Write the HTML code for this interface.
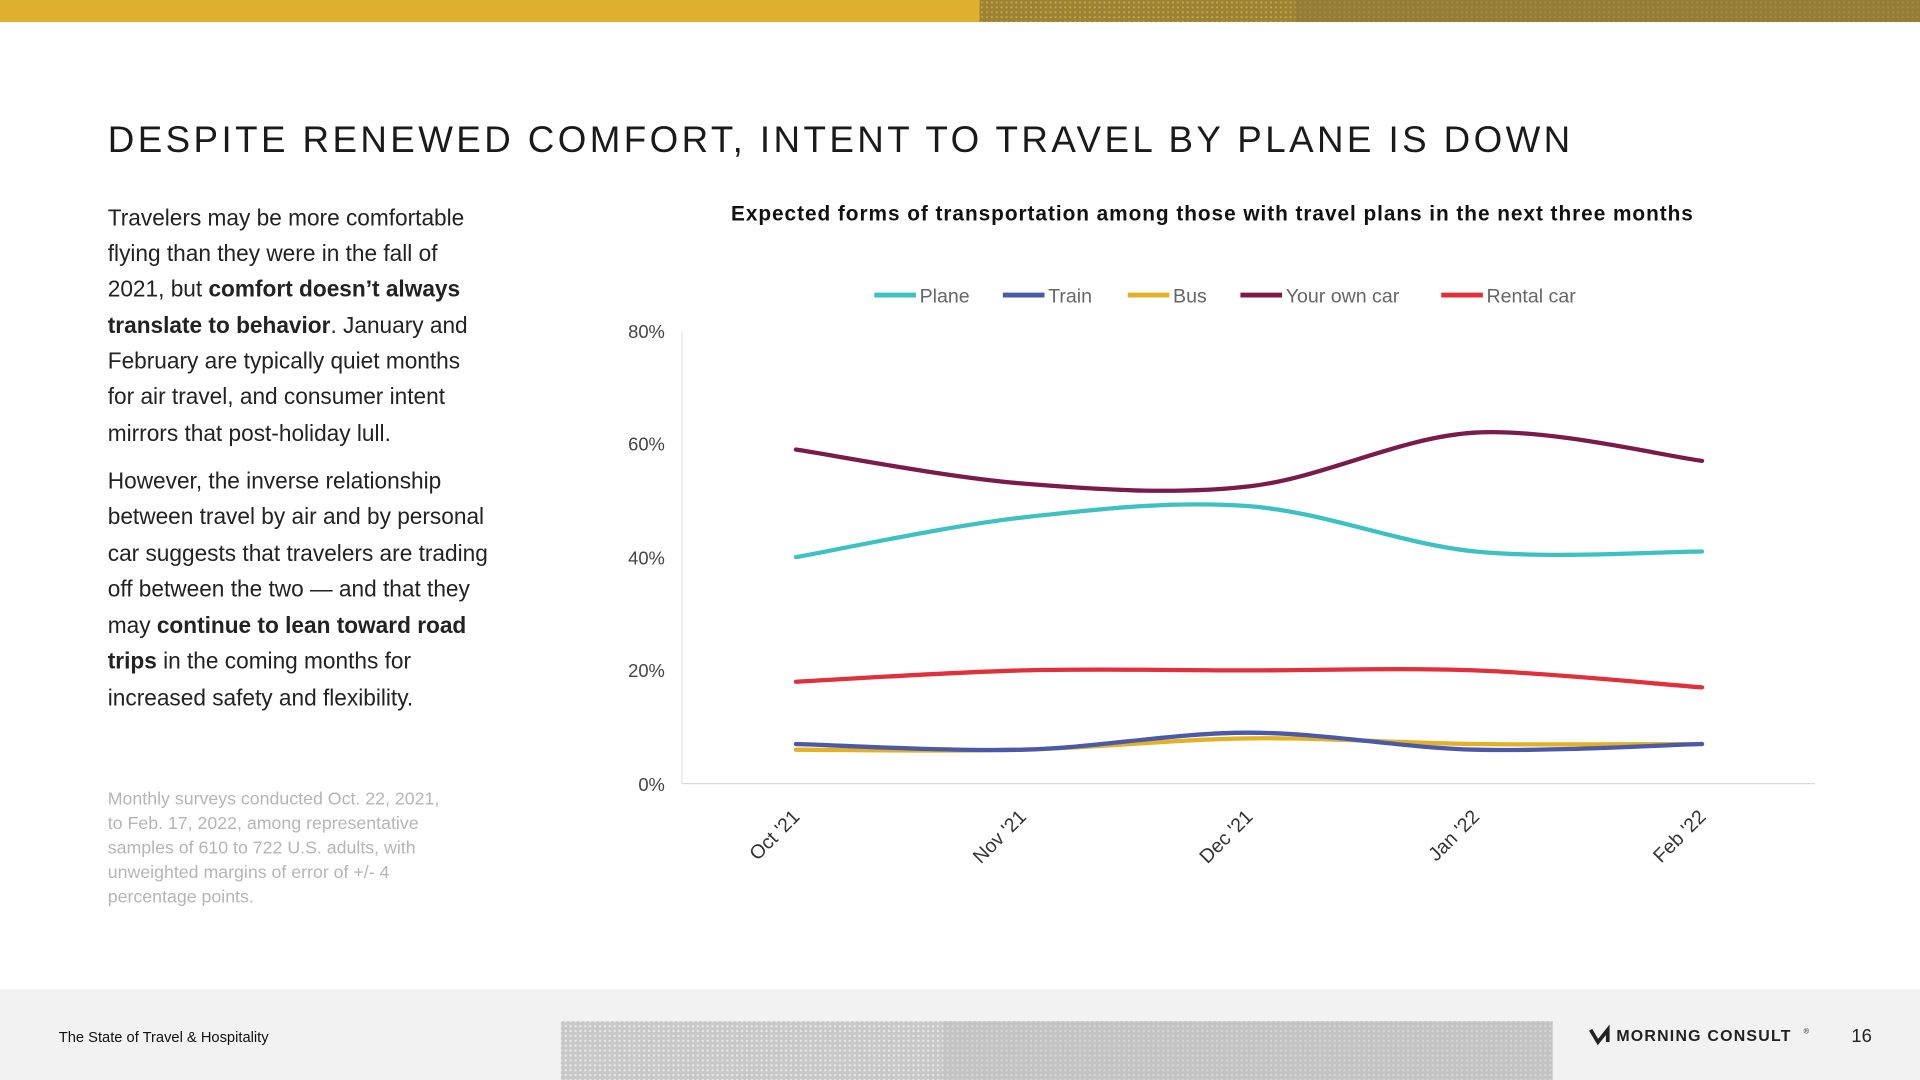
<!DOCTYPE html>
<html><head><meta charset="utf-8"><style>
html,body{margin:0;padding:0;background:#fff;overflow:hidden}
svg{display:block}
text{font-family:"Liberation Sans",sans-serif}
</style></head><body>
<svg id="s" width="1920" height="1080" viewBox="0 0 1568 882" preserveAspectRatio="none" xmlns="http://www.w3.org/2000/svg">
<defs>
<pattern id="dots" width="4" height="4" patternUnits="userSpaceOnUse"><rect width="4" height="4" fill="#9c8236"/><circle cx="2" cy="2" r="0.9" fill="#c9a63a"/></pattern>
<pattern id="gdots" width="4" height="4" patternUnits="userSpaceOnUse"><rect width="4" height="4" fill="#c8c8c8"/><circle cx="2" cy="2" r="1" fill="#e6e6e6"/></pattern>
</defs>
<rect x="0" y="0" width="1568" height="18" fill="#ddb030"/>
<rect x="800" y="0" width="768" height="18" fill="url(#dots)"/>
<rect x="1058" y="0" width="510" height="18" fill="#8f7a3c" opacity="0.6"/>
<rect x="0" y="808" width="1568" height="74" fill="#f2f2f2"/>
<rect x="458" y="834" width="810" height="48" fill="url(#gdots)"/>
<rect x="770" y="834" width="498" height="48" fill="#bbb" opacity="0.4"/>
<text x="88" y="124" font-size="30" letter-spacing="2.8" fill="#1a1a1a">DESPITE RENEWED COMFORT, INTENT TO TRAVEL BY PLANE IS DOWN</text>
<g font-size="18.5" fill="#222">
<text x="88" y="184">Travelers may be more comfortable</text>
<text x="88" y="213">flying than they were in the fall of</text>
<text x="88" y="242">2021, but <tspan font-weight="bold">comfort doesn’t always</tspan></text>
<text x="88" y="272"><tspan font-weight="bold">translate to behavior</tspan>. January and</text>
<text x="88" y="301">February are typically quiet months</text>
<text x="88" y="330">for air travel, and consumer intent</text>
<text x="88" y="360">mirrors that post-holiday lull.</text>
<text x="88" y="399">However, the inverse relationship</text>
<text x="88" y="428">between travel by air and by personal</text>
<text x="88" y="458">car suggests that travelers are trading</text>
<text x="88" y="487">off between the two — and that they</text>
<text x="88" y="517">may <tspan font-weight="bold">continue to lean toward road</tspan></text>
<text x="88" y="546"><tspan font-weight="bold">trips</tspan> in the coming months for</text>
<text x="88" y="576">increased safety and flexibility.</text>
</g>
<g font-size="14.5" fill="#b5b5b5">
<text x="88" y="657">Monthly surveys conducted Oct. 22, 2021,</text>
<text x="88" y="677">to Feb. 17, 2022, among representative</text>
<text x="88" y="697">samples of 610 to 722 U.S. adults, with</text>
<text x="88" y="717">unweighted margins of error of +/- 4</text>
<text x="88" y="737">percentage points.</text>
</g>
<text x="990" y="180" font-size="17" font-weight="bold" text-anchor="middle" letter-spacing="0.5" textLength="786" fill="#111">Expected forms of transportation among those with travel plans in the next three months</text>
<g font-size="16" fill="#666">
<line x1="714" y1="241" x2="748" y2="241" stroke="#3ec1c1" stroke-width="4"/><text x="751" y="247">Plane</text>
<line x1="819" y1="241" x2="853" y2="241" stroke="#4a59a8" stroke-width="4"/><text x="856" y="247">Train</text>
<line x1="921" y1="241" x2="955" y2="241" stroke="#e2b125" stroke-width="4"/><text x="958" y="247">Bus</text>
<line x1="1013" y1="241" x2="1047" y2="241" stroke="#7b1b4a" stroke-width="4"/><text x="1050" y="247">Your own car</text>
<line x1="1177" y1="241" x2="1211" y2="241" stroke="#e0303c" stroke-width="4"/><text x="1214" y="247">Rental car</text>
</g>
<g font-size="15" fill="#444" text-anchor="end">
<text x="543" y="276">80%</text><text x="543" y="368">60%</text><text x="543" y="461">40%</text><text x="543" y="553">20%</text><text x="543" y="646">0%</text>
</g>
<line x1="557" y1="270" x2="557" y2="640" stroke="#e6e6e6" stroke-width="1"/>
<line x1="557" y1="640" x2="1482" y2="640" stroke="#d9d9d9" stroke-width="1"/>
<g font-size="16" fill="#333" text-anchor="end">
<text transform="translate(654,668) rotate(-45)">Oct '21</text>
<text transform="translate(839,668) rotate(-45)">Nov '21</text>
<text transform="translate(1024,668) rotate(-45)">Dec '21</text>
<text transform="translate(1209,668) rotate(-45)">Jan '22</text>
<text transform="translate(1394,668) rotate(-45)">Feb '22</text>
</g>
<g id="series" fill="none" stroke-width="3.5" stroke-linecap="round"></g>
<text x="48" y="851" font-size="12" fill="#111">The State of Travel &amp; Hospitality</text>
<path d="M1299 841 L1305 851 L1313 841 L1313 851" stroke="#222" stroke-width="3" fill="none"/>
<text x="1320" y="850" font-size="13" font-weight="bold" letter-spacing="1" fill="#222">MORNING CONSULT</text>
<text x="1473" y="844" font-size="6" fill="#222">®</text>
<text x="1512" y="851" font-size="15" fill="#222">16</text>
</svg>
<script>
var xs=[650,835,1020,1205,1390];
function y(v){return 640-v*370/80;}
var S=[["#7b1b4a",[59,53,52.5,62,57]],["#3ec1c1",[40,47,49,41,41]],["#e0303c",[18,20,20,20,17]],["#e2b125",[6,6,8,7,7]],["#4a59a8",[7,6,9,6,7]]];
var g=document.getElementById("series");
S.forEach(function(s){
 var p=xs.map(function(x,i){return [x,y(s[1][i])];});
 var d="M"+p[0][0]+" "+p[0][1];
 for(var i=0;i<p.length-1;i++){
  var p0=p[i-1]||p[i],p1=p[i],p2=p[i+1],p3=p[i+2]||p[i+1];
  var c1=[p1[0]+(p2[0]-p0[0])/6,p1[1]+(p2[1]-p0[1])/6];
  var c2=[p2[0]-(p3[0]-p1[0])/6,p2[1]-(p3[1]-p1[1])/6];
  d+=" C"+c1+" "+c2+" "+p2;
 }
 var e=document.createElementNS("http://www.w3.org/2000/svg","path");
 e.setAttribute("d",d);e.setAttribute("stroke",s[0]);g.appendChild(e);
});
</script>
</body></html>
